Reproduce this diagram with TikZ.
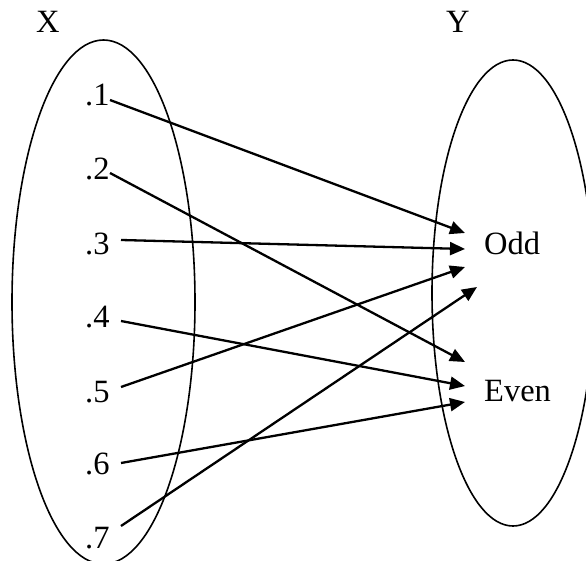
\documentclass[tikz,border=0pt]{standalone}
\usepackage{fontspec}
\setmainfont{Liberation Serif}
\usetikzlibrary{arrows.meta}
\begin{document}
\begin{tikzpicture}[x=1pt,y=-1pt,
  lbl/.style={anchor=base west,inner sep=0pt,font=\fontsize{32.5}{38}\selectfont},
  setshape/.style={draw,line width=1.6pt},
  mapto/.style={line width=2.3pt,-{Triangle[length=15pt,width=13pt]}}]
\useasboundingbox (0,0) rectangle (586,561);
\clip (0,0) rectangle (586,561);
\draw[setshape] (103.5,302) ellipse [x radius=91.5, y radius=262];
\draw[setshape] (513,293) ellipse [x radius=81, y radius=233];
\node[lbl] (X) at (36,33) {X};
\node[lbl] (Y) at (446,33) {Y};
\node[lbl] (n1) at (85,106) {.1};
\node[lbl] (n2) at (85,180) {.2};
\node[lbl] (n3) at (85,255) {.3};
\node[lbl] (n4) at (85,327) {.4};
\node[lbl] (n5) at (85,402) {.5};
\node[lbl] (n6) at (85,474) {.6};
\node[lbl] (n7) at (85,548) {.7};
\node[lbl] (odd) at (484,255) {Odd};
\node[lbl] (even) at (484,401) {Even};
\coordinate (s1) at (110,100);
\coordinate (s2) at (110,173);
\coordinate (s3) at (121,240);
\coordinate (s4) at (121,321);
\coordinate (s5) at (121,387);
\coordinate (s6) at (121,463);
\coordinate (s7) at (121,526);
\coordinate (t1) at (465,233);
\coordinate (t2) at (465,362);
\coordinate (t3) at (465,249);
\coordinate (t4) at (465,386);
\coordinate (t5) at (465,267);
\coordinate (t6) at (465,402);
\coordinate (t7) at (477,287);
\draw[mapto] (s1) -- (t1);
\draw[mapto] (s2) -- (t2);
\draw[mapto] (s3) -- (t3);
\draw[mapto] (s4) -- (t4);
\draw[mapto] (s5) -- (t5);
\draw[mapto] (s6) -- (t6);
\draw[mapto] (s7) -- (t7);
\end{tikzpicture}
\end{document}
